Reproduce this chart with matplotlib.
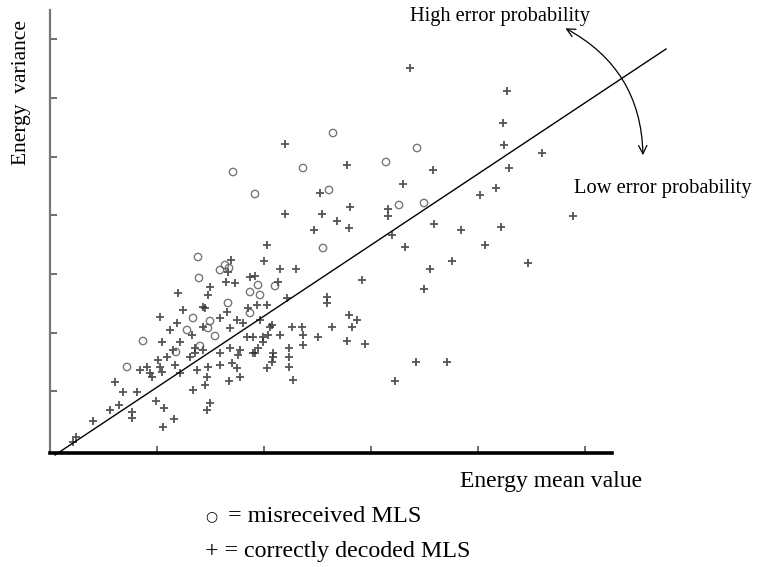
import matplotlib
matplotlib.use("Agg")
import matplotlib.pyplot as plt
import numpy as np

# Data (arbitrary energy units)
# misreceived MLS (circles)
mis_mean = [283, 367, 336, 253, 183, 279, 205, 349, 374, 273,
            148, 170, 175, 179, 149, 208, 225, 200, 210, 178,
            143, 160, 200, 158, 137, 165, 93, 77, 150, 126]
mis_var = [317, 302, 288, 282, 278, 260, 256, 245, 247, 202,
           193, 180, 185, 182, 172, 165, 164, 158, 155, 147,
           132, 129, 137, 122, 120, 114, 109, 83, 104, 98]

# correctly decoded MLS (plus signs), in four groups
ok_mean_a = [360, 457, 453, 454, 492, 297, 383, 459, 353, 446,
             430, 270, 300, 338, 338, 523, 287, 299, 384, 411,
             451, 342, 355, 435, 235, 235, 272, 264, 402, 380,
             478, 312, 374, 299, 307, 302, 282, 297, 315, 366,
             397, 345]
ok_var_a = [382, 359, 327, 305, 297, 285, 280, 282, 266, 262,
            255, 257, 243, 241, 234, 234, 229, 222, 226, 220,
            223, 215, 203, 205, 306, 236, 236, 220, 189, 181,
            187, 170, 161, 135, 130, 123, 123, 109, 106, 88,
            88, 69]
ok_mean_b = [217, 214, 181, 178, 230, 246, 176, 185, 200, 205,
             228, 160, 158, 155, 207, 237, 277, 277, 128, 110,
             133, 177, 187, 198, 217, 210, 120, 142, 180, 193,
             220, 203, 112, 130, 145, 123, 153, 140, 117, 108,
             97, 110, 125, 145, 180, 170, 188, 203, 223, 213,
             170, 158, 90, 100, 112, 130, 147, 157, 187, 217, 222]
ok_var_b = [205, 189, 190, 178, 181, 181, 168, 167, 173, 174,
            168, 163, 155, 142, 145, 152, 153, 147, 157, 133,
            140, 138, 130, 142, 145, 130, 120, 115, 122, 127,
            123, 113, 108, 108, 102, 100, 100, 93, 93, 90,
            83, 83, 85, 97, 102, 97, 95, 97, 93, 108,
            85, 83, 80, 77, 78, 77, 80, 73, 82, 82, 88]
ok_mean_c = [268, 253, 253, 252, 242, 239, 239, 239, 243, 223,
             205, 208, 213, 218, 230, 222, 190, 190, 179, 155,
             143, 160, 157, 182, 197]
ok_var_c = [113, 115, 105, 123, 123, 102, 93, 83, 70, 97,
            97, 102, 113, 115, 115, 125, 100, 73, 69, 65,
            60, 47, 40, 87, 113]
ok_mean_d = [65, 60, 43, 26, 82, 82, 73, 87, 106, 114,
             124, 113, 69, 23, 102, 127, 153, 170, 153]
ok_var_d = [68, 40, 29, 13, 38, 32, 58, 58, 49, 42,
            31, 23, 45, 8, 73, 127, 123, 132, 143]

# decision line
line_mean = [5, 616]
line_var = [-5, 401]

ok_mean = ok_mean_a + ok_mean_b + ok_mean_c + ok_mean_d
ok_var = ok_var_a + ok_var_b + ok_var_c + ok_var_d

fig = plt.figure(figsize=(7.71, 5.67), dpi=100)
ax = fig.add_axes([50 / 771, 1 - 453 / 567, 562 / 771, 443 / 567])
ax.set_xlim(0, 562)
ax.set_ylim(-3, 440)

ax.scatter(ok_mean, ok_var, marker='+', s=40, c='#2a2a2a', linewidths=1.3, alpha=0.8)
ax.scatter(mis_mean, mis_var, marker='o', s=28, facecolors='none', edgecolors='#555555',
           linewidths=1.0, alpha=0.8)
ax.plot(line_mean, line_var, color='black', lw=1.0, clip_on=False)

for s in ['top', 'right']:
    ax.spines[s].set_visible(False)
ax.spines['left'].set_color('#777777')
ax.spines['left'].set_linewidth(1.6)
ax.spines['bottom'].set_color('black')
ax.spines['bottom'].set_linewidth(2.6)
ax.set_xticks(np.arange(1, 6) * 107)
ax.set_yticks(np.arange(1, 8) * 58.7)
ax.tick_params(direction='in', length=5, width=1.2, color='#555555',
               labelbottom=False, labelleft=False)

serif = 'Liberation Serif'
fig.text(22 / 771, 1 - 93 / 567, 'Energy  variance', rotation=90, ha='center', va='center',
         family=serif, fontsize=15.5)
fig.text(551 / 771, 1 - 482 / 567, 'Energy mean value', ha='center', va='center',
         family=serif, fontsize=17)
fig.text(211 / 771, 1 - 516 / 567, '\u25cb', ha='center', va='center',
         family='DejaVu Sans', fontsize=10)
fig.text(228 / 771, 1 - 517 / 567, '= misreceived MLS', ha='left', va='center',
         family=serif, fontsize=17.5)
fig.text(205 / 771, 1 - 552 / 567, '+ = correctly decoded MLS', ha='left', va='center',
         family=serif, fontsize=17.3)
fig.text(500 / 771, 1 - 16 / 567, 'High error probability', ha='center', va='center',
         family=serif, fontsize=14.7)
fig.text(663 / 771, 1 - 188 / 567, 'Low error probability', ha='center', va='center',
         family=serif, fontsize=14.8)

fig.patches.append(matplotlib.patches.FancyArrowPatch(
    (563 / 771, 1 - 27 / 567), (643 / 771, 1 - 158 / 567), transform=fig.transFigure,
    arrowstyle='<->,head_length=6,head_width=3', connectionstyle='arc3,rad=-0.3',
    color='black', lw=0.9))

fig.savefig('out.png', dpi=100)
